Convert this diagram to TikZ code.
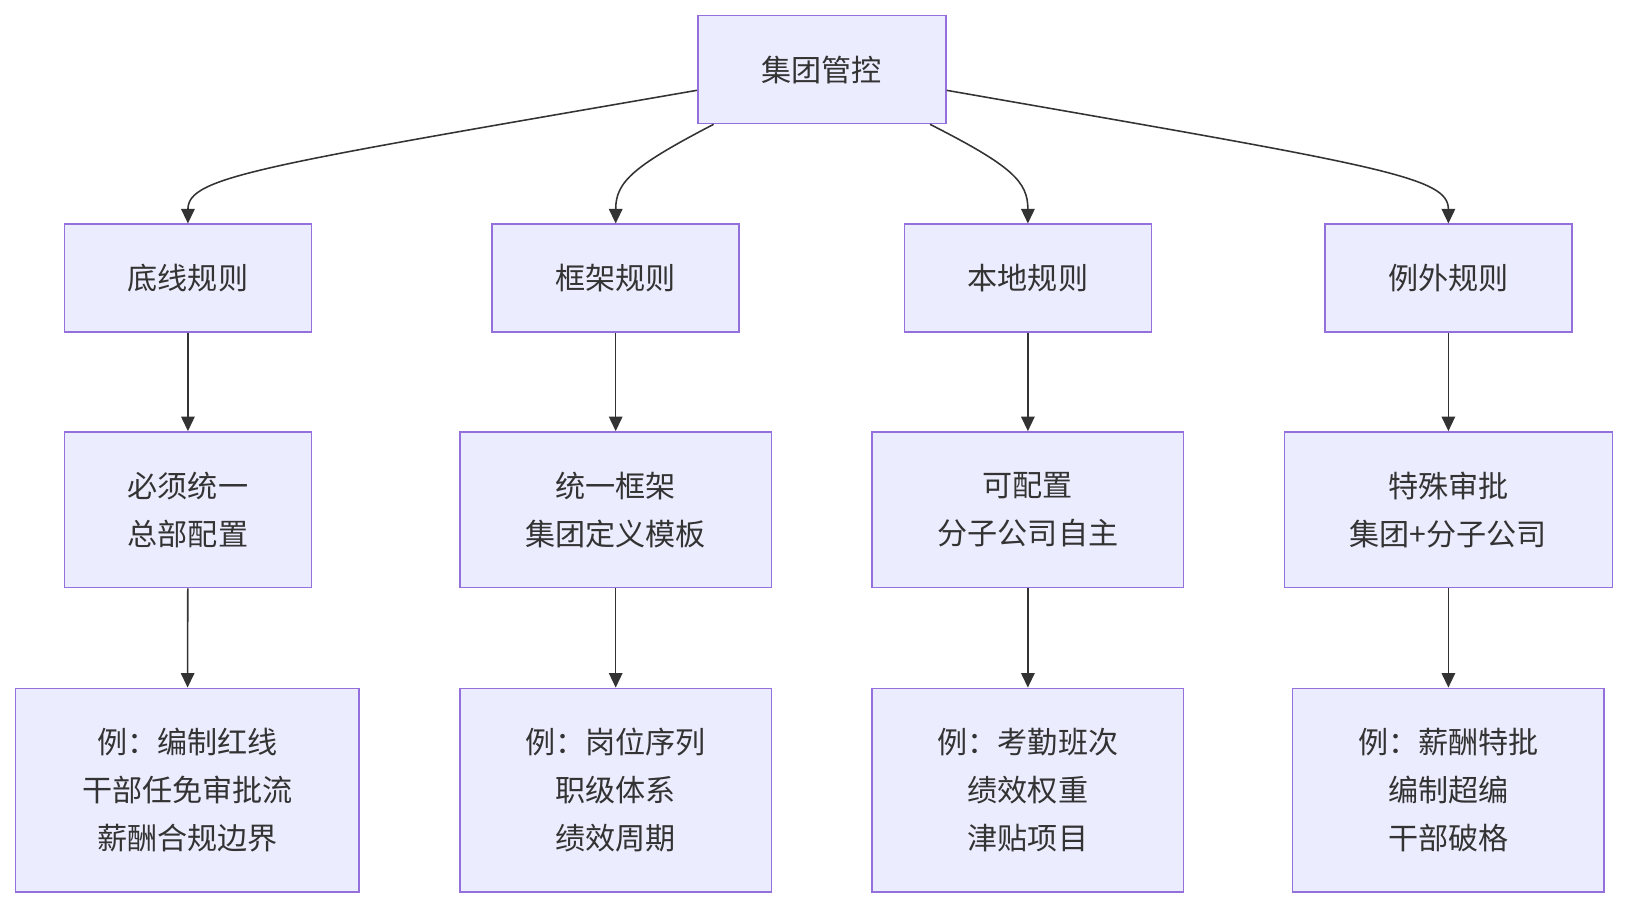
\documentclass[tikz,border=0pt]{standalone}
\usepackage{fontspec}
\setmainfont{Noto Sans CJK SC}
\usetikzlibrary{arrows.meta}
\definecolor{boxfill}{HTML}{ECECFF}
\definecolor{boxline}{HTML}{9370DB}
\definecolor{ink}{HTML}{333333}
\tikzset{every picture/.style={line width=1.5pt}}

\begin{document}
\begin{tikzpicture}[x=1pt,y=-1pt,font=\fontsize{29}{46}\selectfont,
        box/.style={draw=boxline,fill=boxfill,text=ink,align=center,inner sep=0pt},
        link/.style={draw=ink,-{Triangle[length=14pt,width=13pt]}}]
        \useasboundingbox (0,0) rectangle (1568,874);
        \node[box,minimum width=239pt,minimum height=104pt] (top) at (791.5,67) {集团管控};
        % second row
        \node[box,minimum width=238pt,minimum height=104pt] (base) at (181,268) {底线规则};
        \node[box,minimum width=238pt,minimum height=104pt] (frame) at (593,268) {框架规则};
        \node[box,minimum width=238pt,minimum height=104pt] (local) at (990,268) {本地规则};
        \node[box,minimum width=238pt,minimum height=104pt] (except) at (1395,268) {例外规则};
        % third row
        \node[box,minimum width=238pt,minimum height=150pt] (baseB) at (181,491) {必须统一\\总部配置};
        \node[box,minimum width=300pt,minimum height=150pt] (frameB) at (593,491) {统一框架\\集团定义模板};
        \node[box,minimum width=300pt,minimum height=150pt] (localB) at (990,491) {可配置\\分子公司自主};
        \node[box,minimum width=316pt,minimum height=150pt] (exceptB) at (1395,491) {特殊审批\\集团+分子公司};
        % fourth row
        \node[box,minimum width=331pt,minimum height=196pt] (baseC) at (180.5,761) {例：编制红线\\干部任免审批流\\薪酬合规边界};
        \node[box,minimum width=300pt,minimum height=196pt] (frameC) at (593,761) {例：岗位序列\\职级体系\\绩效周期};
        \node[box,minimum width=300pt,minimum height=196pt] (localC) at (990,761) {例：考勤班次\\绩效权重\\津贴项目};
        \node[box,minimum width=300pt,minimum height=196pt] (exceptC) at (1395,761) {例：薪酬特批\\编制超编\\干部破格};
        \draw[link] ([yshift=-20pt]top.west) .. controls (250,160) and (181,170) .. (base.north);
        \draw[link] ([xshift=16pt]top.south west) .. controls (610,160) and (593,175) .. (frame.north);
        \draw[link] ([xshift=-16pt]top.south east) .. controls (975,160) and (990,175) .. (local.north);
        \draw[link] ([yshift=-20pt]top.east) .. controls (1330,160) and (1395,170) .. (except.north);
        \draw[link] (base) -- (baseB);
        \draw[link] (frame) -- (frameB);
        \draw[link] (local) -- (localB);
        \draw[link] (except) -- (exceptB);
        \draw[link] (baseB) -- (baseC);
        \draw[link] (frameB) -- (frameC);
        \draw[link] (localB) -- (localC);
        \draw[link] (exceptB) -- (exceptC);
\end{tikzpicture}
\end{document}
